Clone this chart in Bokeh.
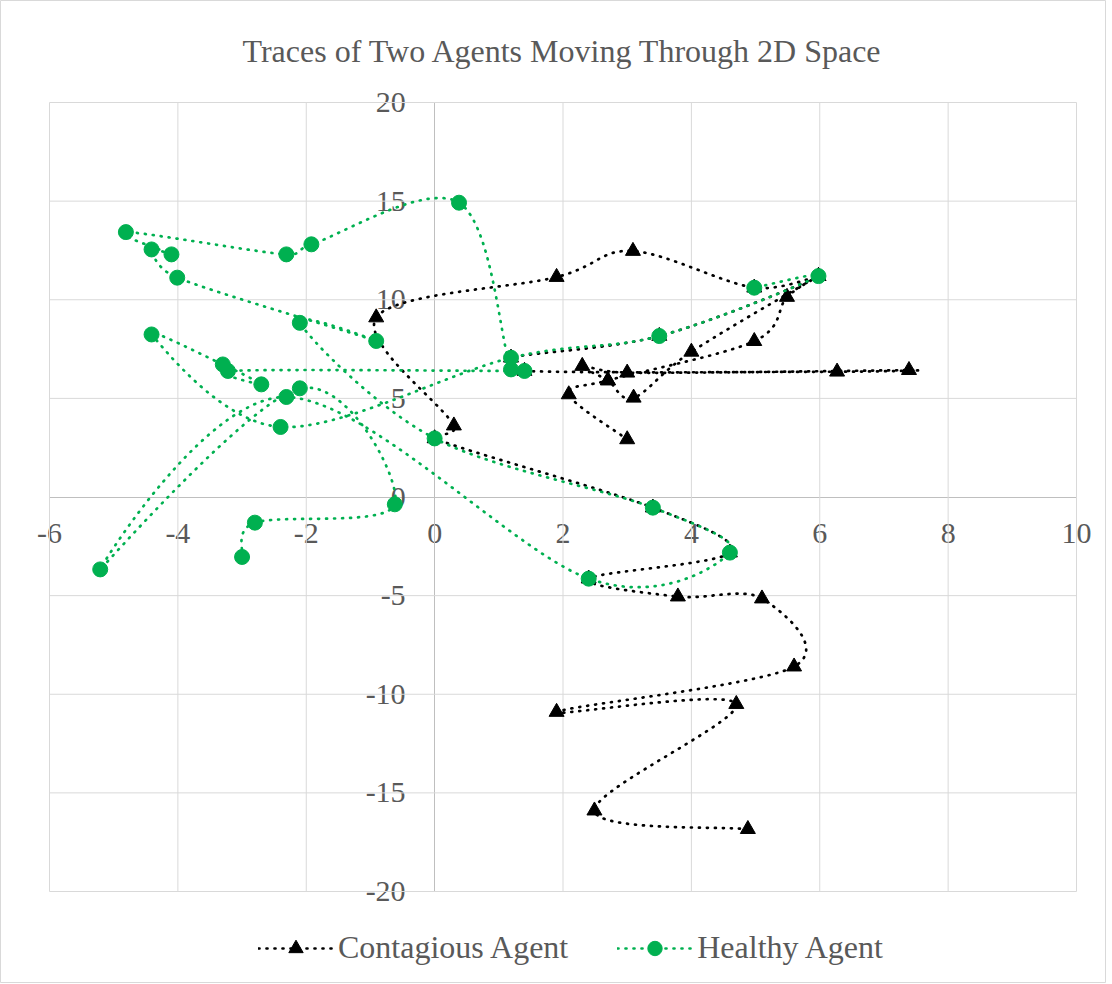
import numpy as np
from bokeh.plotting import figure
from bokeh.models import FixedTicker, Legend, LegendItem, Label
from bokeh.embed import file_html
from bokeh.resources import INLINE

TITLE = "Traces of Two Agents Moving Through 2D Space"
X_TICKS = [-6, -4, -2, 0, 2, 4, 6, 8, 10]
Y_TICKS = [-20, -15, -10, -5, 0, 5, 10, 15, 20]
SERIES_NAMES = ["Contagious Agent", "Healthy Agent"]

contagious_x = [4.88, 2.49, 4.70, 1.90, 5.60, 5.10, 3.79, 2.40, 4.60, 3.40, 0.00, 0.30,
                -0.91, 1.90, 3.09, 4.98, 5.98, 3.50, 1.19, 1.40, 6.27, 7.39, 3.00, 2.30,
                2.70, 3.10, 4.00, 5.98, 5.49, 4.98, 2.70, 2.09, 3.00]
contagious_y = [-16.84, -15.90, -10.50, -10.90, -8.60, -5.15, -5.05, -4.14, -2.82, -0.54, 2.97, 3.62,
                9.10, 11.15, 12.47, 10.61, 11.20, 8.16, 7.06, 6.39, 6.35, 6.43, 6.30, 6.64,
                5.91, 5.03, 7.36, 11.20, 10.14, 7.90, 5.91, 5.20, 2.92]

healthy_x = [-3.00, -2.80, -0.62, -2.10, -5.21, -2.31, 2.40, 4.60, 3.40, 0.00, -2.10, -0.91,
             -4.01, -4.41, -4.10, -4.81, -2.31, -1.92, 0.38, 1.19, 1.40, -3.22, -2.70, -3.30,
             -4.41, -2.40, 1.19, 3.50, 5.98, 4.98]
healthy_y = [-3.04, -1.30, -0.37, 5.51, -3.67, 5.07, -4.14, -2.82, -0.54, 2.97, 8.83, 7.91,
             11.12, 12.55, 12.30, 13.43, 12.30, 12.81, 14.92, 6.47, 6.39, 6.39, 5.71, 6.72,
             8.24, 3.55, 7.06, 8.16, 11.20, 10.61]

TEXT = "#595959"
FONT = "Liberation Serif"
GREEN = "#00B050"

# layout (pixels): chart area = whole frame; plot area inside it
W, H = 1106, 983
PL, PR, PT, PB = 49, 1076, 102, 891
x0, x1 = X_TICKS[0], X_TICKS[-1]
y0, y1 = Y_TICKS[0], Y_TICKS[-1]
sx = (x1 - x0) / (PR - PL)
sy = (y1 - y0) / (PB - PT)
x_range = (x0 - PL * sx, x1 + (W - PR) * sx)
y_range = (y0 - (H - PB) * sy, y1 + PT * sy)


def smooth(xs, ys, n=30, clamp=0.6):
    """Excel-like smoothed line: cubic Bezier segments with Catmull-Rom control points,
    computed in screen space, control arms limited relative to the segment length."""
    S = np.array([1.0 / sx, 1.0 / sy])
    P = np.column_stack([xs, ys]).astype(float) * S
    Q = np.vstack([P[0], P, P[-1]])
    out = [P[0]]
    t = np.linspace(0, 1, n + 1)[1:, None]

    def arm(v, L):
        m = np.hypot(*v)
        lim = clamp * L
        return v * (lim / m) if m > lim and m > 0 else v

    for i in range(1, len(Q) - 2):
        p0, p1, p2, p3 = Q[i - 1], Q[i], Q[i + 1], Q[i + 2]
        L = np.hypot(*(p2 - p1))
        c1 = p1 + arm((p2 - p0) / 6.0, L)
        c2 = p2 - arm((p3 - p1) / 6.0, L)
        seg = (1 - t) ** 3 * p1 + 3 * (1 - t) ** 2 * t * c1 + 3 * (1 - t) * t ** 2 * c2 + t ** 3 * p2
        out.extend(seg)
    out = np.array(out) / S
    return out[:, 0], out[:, 1]


p = figure(frame_width=W, frame_height=H, x_range=x_range, y_range=y_range,
           output_backend="svg", toolbar_location=None, title=None,
           min_border_left=0, min_border_right=0, min_border_top=0, min_border_bottom=0)
p.outline_line_color = "#D9D9D9"
p.grid.visible = False

# gridlines of the plot area
gx = [t for t in X_TICKS if t != 0]
gy = [t for t in Y_TICKS if t != 0]
p.segment(x0=gx, y0=[y0] * len(gx), x1=gx, y1=[y1] * len(gx), line_color="#D9D9D9", line_width=1)
p.segment(x0=[x0] * len(gy), y0=gy, x1=[x1] * len(gy), y1=gy, line_color="#D9D9D9", line_width=1)

p.xaxis.ticker = FixedTicker(ticks=X_TICKS)
p.yaxis.ticker = FixedTicker(ticks=Y_TICKS)
p.xaxis.bounds = (x0, x1)
p.yaxis.bounds = (y0, y1)
p.xaxis.major_label_overrides = {t: str(t) for t in X_TICKS}
p.yaxis.major_label_overrides = {t: str(t) for t in Y_TICKS}
for ax in (p.xaxis[0], p.yaxis[0]):
    ax.fixed_location = 0
    ax.level = "underlay"
    ax.axis_line_color = "#BFBFBF"
    ax.axis_line_width = 1
    ax.major_tick_line_color = None
    ax.minor_tick_line_color = None
    ax.major_label_text_font = FONT
    ax.major_label_text_font_size = "30px"
    ax.major_label_text_color = TEXT
p.xaxis.major_label_standoff = 21
p.yaxis.major_label_standoff = 23

p.add_layout(Label(x=(x0 + x1) / 2, y=y1 + (PT - 50) * sy, text=TITLE, text_align="center",
                   text_baseline="middle", text_font=FONT, text_font_size="32px",
                   text_color=TEXT))

cx, cy = smooth(contagious_x, contagious_y)
hx, hy = smooth(healthy_x, healthy_y)

c_line = p.line(cx, cy, line_color="black", line_width=2.7, line_dash="1 7", line_cap="round")
c_pts = p.scatter(contagious_x, contagious_y, marker="triangle", size=15,
                  fill_color="black", line_color="black")
h_line = p.line(hx, hy, line_color=GREEN, line_width=2.7, line_dash="1 7", line_cap="round")
h_pts = p.scatter(healthy_x, healthy_y, marker="circle", size=15,
                  fill_color=GREEN, line_color=GREEN)

legend = Legend(items=[LegendItem(label=SERIES_NAMES[0], renderers=[c_line, c_pts]),
                       LegendItem(label=SERIES_NAMES[1], renderers=[h_line, h_pts])],
                orientation="horizontal", location=(258, 17),
                glyph_width=75, glyph_height=36, label_standoff=5, spacing=49,
                label_text_font=FONT, label_text_font_size="32px", label_text_color=TEXT,
                border_line_color=None, background_fill_alpha=0, padding=0, margin=0)
p.add_layout(legend, "center")

open("out.html", "w").write(file_html(p, INLINE))
